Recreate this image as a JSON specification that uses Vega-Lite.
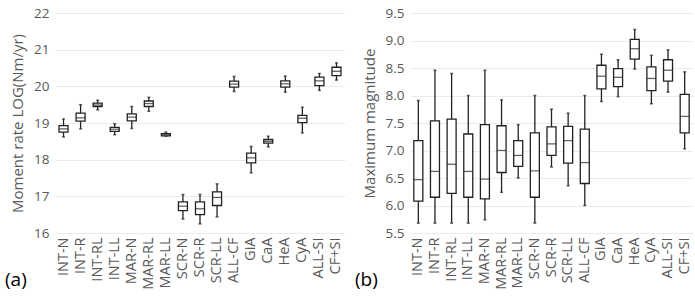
{
  "$schema": "https://vega.github.io/schema/vega-lite/v6.json",
  "background": "white",
  "padding": {"left": 5, "top": 6, "right": 5, "bottom": 0},
  "spacing": 10,
  "config": {
    "font": "Open Sans",
    "view": {"stroke": null},
    "axis": {"labelColor": "#595959", "titleColor": "#595959", "labelFontSize": 13.5, "titleFontSize": 15, "titleFontWeight": "normal", "domain": false, "ticks": false, "gridColor": "#ebebeb"},
    "axisX": {"labelFontSize": 14.5},
    "title": {"fontSize": 19, "fontWeight": "normal", "color": "#000000"}
  },
  "datasets": {
    "mr": [
      {"g": "INT-N", "lo": 18.62, "q1": 18.75, "med": 18.84, "q3": 18.93, "hi": 19.11},
      {"g": "INT-R", "lo": 18.84, "q1": 19.05, "med": 19.14, "q3": 19.27, "hi": 19.5},
      {"g": "INT-RL", "lo": 19.36, "q1": 19.45, "med": 19.49, "q3": 19.54, "hi": 19.62},
      {"g": "INT-LL", "lo": 18.68, "q1": 18.77, "med": 18.83, "q3": 18.88, "hi": 18.98},
      {"g": "MAR-N", "lo": 18.85, "q1": 19.06, "med": 19.16, "q3": 19.25, "hi": 19.45},
      {"g": "MAR-RL", "lo": 19.32, "q1": 19.45, "med": 19.53, "q3": 19.6, "hi": 19.7},
      {"g": "MAR-LL", "lo": 18.64, "q1": 18.65, "med": 18.68, "q3": 18.71, "hi": 18.75},
      {"g": "SCR-N", "lo": 16.38, "q1": 16.61, "med": 16.73, "q3": 16.85, "hi": 17.05},
      {"g": "SCR-R", "lo": 16.25, "q1": 16.5, "med": 16.66, "q3": 16.85, "hi": 17.05},
      {"g": "SCR-LL", "lo": 16.44, "q1": 16.75, "med": 16.97, "q3": 17.12, "hi": 17.34},
      {"g": "ALL-CF", "lo": 19.86, "q1": 19.98, "med": 20.06, "q3": 20.14, "hi": 20.27},
      {"g": "GiA", "lo": 17.64, "q1": 17.91, "med": 18.05, "q3": 18.18, "hi": 18.36},
      {"g": "CaA", "lo": 18.35, "q1": 18.45, "med": 18.5, "q3": 18.55, "hi": 18.64},
      {"g": "HeA", "lo": 19.84, "q1": 19.98, "med": 20.07, "q3": 20.15, "hi": 20.28},
      {"g": "CyA", "lo": 18.73, "q1": 19.01, "med": 19.13, "q3": 19.21, "hi": 19.43},
      {"g": "ALL-SI", "lo": 19.89, "q1": 20.02, "med": 20.15, "q3": 20.25, "hi": 20.35},
      {"g": "CF+SI", "lo": 20.17, "q1": 20.29, "med": 20.41, "q3": 20.52, "hi": 20.64}
    ],
    "mm": [
      {"g": "INT-N", "lo": 5.68, "q1": 6.08, "med": 6.47, "q3": 7.18, "hi": 7.91},
      {"g": "INT-R", "lo": 5.68, "q1": 6.15, "med": 6.62, "q3": 7.54, "hi": 8.46},
      {"g": "INT-RL", "lo": 5.68, "q1": 6.22, "med": 6.75, "q3": 7.57, "hi": 8.4},
      {"g": "INT-LL", "lo": 5.68, "q1": 6.15, "med": 6.62, "q3": 7.3, "hi": 8.0},
      {"g": "MAR-N", "lo": 5.74, "q1": 6.12, "med": 6.48, "q3": 7.47, "hi": 8.46},
      {"g": "MAR-RL", "lo": 6.24, "q1": 6.6, "med": 7.0, "q3": 7.45, "hi": 7.92},
      {"g": "MAR-LL", "lo": 6.5, "q1": 6.71, "med": 6.91, "q3": 7.18, "hi": 7.47},
      {"g": "SCR-N", "lo": 5.68, "q1": 6.15, "med": 6.63, "q3": 7.32, "hi": 8.0},
      {"g": "SCR-R", "lo": 6.7, "q1": 6.91, "med": 7.12, "q3": 7.43, "hi": 7.75},
      {"g": "SCR-LL", "lo": 6.36, "q1": 6.77, "med": 7.18, "q3": 7.44, "hi": 7.68},
      {"g": "ALL-CF", "lo": 6.0, "q1": 6.4, "med": 6.78, "q3": 7.39, "hi": 8.0},
      {"g": "GiA", "lo": 7.89, "q1": 8.12, "med": 8.35, "q3": 8.55, "hi": 8.75},
      {"g": "CaA", "lo": 7.98, "q1": 8.16, "med": 8.33, "q3": 8.49, "hi": 8.65},
      {"g": "HeA", "lo": 8.48, "q1": 8.66, "med": 8.85, "q3": 9.02, "hi": 9.2},
      {"g": "CyA", "lo": 7.85, "q1": 8.09, "med": 8.31, "q3": 8.52, "hi": 8.73},
      {"g": "ALL-SI", "lo": 8.06, "q1": 8.26, "med": 8.46, "q3": 8.65, "hi": 8.83},
      {"g": "CF+SI", "lo": 7.03, "q1": 7.32, "med": 7.62, "q3": 8.02, "hi": 8.43}
    ]
  },
  "hconcat": [
    {
      "width": 290,
      "height": 220,
      "data": {"name": "mr"},
      "title": {"text": "(a)", "orient": "bottom", "anchor": "start", "dx": -50, "dy": -22, "frame": "group"},
      "encoding": {
        "x": {"field": "g", "type": "nominal", "sort": null, "title": null, "axis": {"labelAngle": -90, "labelPadding": 4, "grid": false}}
      },
      "layer": [
        {"mark": {"type": "rule", "color": "#222", "strokeWidth": 1.3},
         "encoding": {"y": {"field": "lo", "type": "quantitative", "scale": {"domain": [16, 22]}, "title": "Moment rate LOG(Nm/yr)", "axis": {"values": [16, 17, 18, 19, 20, 21, 22], "labelPadding": 6, "titlePadding": 8}}, "y2": {"field": "hi"}}},
        {"mark": {"type": "tick", "color": "#222", "size": 3, "thickness": 1.5}, "encoding": {"y": {"field": "hi", "type": "quantitative", "title": "Moment rate LOG(Nm/yr)", "axis": {"values": [16, 17, 18, 19, 20, 21, 22], "labelPadding": 6, "titlePadding": 8}}}},
        {"mark": {"type": "tick", "color": "#222", "size": 3, "thickness": 1.5}, "encoding": {"y": {"field": "lo", "type": "quantitative", "title": "Moment rate LOG(Nm/yr)", "axis": {"values": [16, 17, 18, 19, 20, 21, 22], "labelPadding": 6, "titlePadding": 8}}}},
        {"mark": {"type": "bar", "fill": "white", "stroke": "#222", "strokeWidth": 1.3, "size": 9},
         "encoding": {"y": {"field": "q1", "type": "quantitative", "title": "Moment rate LOG(Nm/yr)", "axis": {"values": [16, 17, 18, 19, 20, 21, 22], "labelPadding": 6, "titlePadding": 8}}, "y2": {"field": "q3"}}},
        {"mark": {"type": "tick", "color": "#222", "size": 9, "thickness": 1.3}, "encoding": {"y": {"field": "med", "type": "quantitative", "title": "Moment rate LOG(Nm/yr)", "axis": {"values": [16, 17, 18, 19, 20, 21, 22], "labelPadding": 6, "titlePadding": 8}}}}
      ]
    },
    {
      "width": 283,
      "height": 220,
      "data": {"name": "mm"},
      "title": {"text": "(b)", "orient": "bottom", "anchor": "start", "dx": -55, "dy": -22, "frame": "group"},
      "encoding": {
        "x": {"field": "g", "type": "nominal", "sort": null, "title": null, "axis": {"labelAngle": -90, "labelPadding": 4, "grid": false}}
      },
      "layer": [
        {"mark": {"type": "rule", "color": "#222", "strokeWidth": 1.3},
         "encoding": {"y": {"field": "lo", "type": "quantitative", "scale": {"domain": [5.5, 9.5]}, "title": "Maximum magnitude", "axis": {"values": [5.5, 6, 6.5, 7, 7.5, 8, 8.5, 9, 9.5], "format": ".1f", "labelPadding": 6, "titlePadding": 8}}, "y2": {"field": "hi"}}},
        {"mark": {"type": "tick", "color": "#222", "size": 3, "thickness": 1.5}, "encoding": {"y": {"field": "hi", "type": "quantitative", "title": "Maximum magnitude", "axis": {"values": [5.5, 6, 6.5, 7, 7.5, 8, 8.5, 9, 9.5], "format": ".1f", "labelPadding": 6, "titlePadding": 8}}}},
        {"mark": {"type": "tick", "color": "#222", "size": 3, "thickness": 1.5}, "encoding": {"y": {"field": "lo", "type": "quantitative", "title": "Maximum magnitude", "axis": {"values": [5.5, 6, 6.5, 7, 7.5, 8, 8.5, 9, 9.5], "format": ".1f", "labelPadding": 6, "titlePadding": 8}}}},
        {"mark": {"type": "bar", "fill": "white", "stroke": "#222", "strokeWidth": 1.3, "size": 9},
         "encoding": {"y": {"field": "q1", "type": "quantitative", "title": "Maximum magnitude", "axis": {"values": [5.5, 6, 6.5, 7, 7.5, 8, 8.5, 9, 9.5], "format": ".1f", "labelPadding": 6, "titlePadding": 8}}, "y2": {"field": "q3"}}},
        {"mark": {"type": "tick", "color": "#222", "size": 9, "thickness": 1.3}, "encoding": {"y": {"field": "med", "type": "quantitative", "title": "Maximum magnitude", "axis": {"values": [5.5, 6, 6.5, 7, 7.5, 8, 8.5, 9, 9.5], "format": ".1f", "labelPadding": 6, "titlePadding": 8}}}}
      ]
    }
  ]
}
